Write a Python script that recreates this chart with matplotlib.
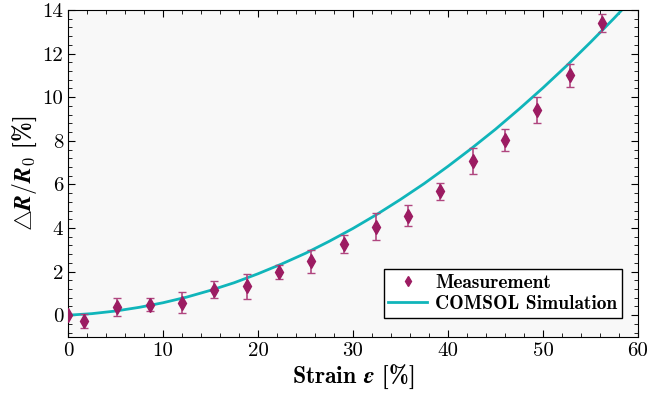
import matplotlib.pyplot as plt
from matplotlib.ticker import MultipleLocator

# measured points
strain = [0, 1.7, 5.2, 8.6, 12.0, 15.4, 18.8, 22.2, 25.6, 29.0, 32.4,
          35.8, 39.2, 42.6, 46.0, 49.4, 52.8, 56.2]
dr = [0, -0.26, 0.38, 0.49, 0.58, 1.17, 1.32, 1.98, 2.48, 3.26, 4.06,
      4.57, 5.68, 7.08, 8.03, 9.40, 11.0, 13.4]
err = [0, 0.32, 0.4, 0.3, 0.5, 0.4, 0.58, 0.3, 0.53, 0.4, 0.61,
       0.5, 0.39, 0.61, 0.51, 0.59, 0.51, 0.4]

# comsol curve
sim_x = [0, 2.5, 5, 7.5, 10, 12.5, 15, 17.5, 20, 22.5, 25, 27.5, 30, 32.5,
         35, 37.5, 40, 42.5, 45, 47.5, 50, 52.5, 55, 57.5, 58.3]
sim_y = [0, 0.07, 0.19, 0.36, 0.57, 0.83, 1.14, 1.49, 1.90, 2.35, 2.84, 3.39,
         3.98, 4.62, 5.31, 6.04, 6.83, 7.66, 8.53, 9.46, 10.43, 11.45, 12.52,
         13.63, 14.0]

plt.rcParams['mathtext.fontset'] = 'cm'
plt.rcParams['axes.unicode_minus'] = False

purple = '#9c1c62'
teal = '#10b5ba'

fig = plt.figure(figsize=(6.47, 3.98), dpi=100)
ax = fig.add_axes([0.1051, 0.1533, 0.881, 0.8216])
ax.set_facecolor('#f8f8f8')

line, = ax.plot(sim_x, sim_y, color=teal, lw=2, zorder=2)
ax.errorbar(strain, dr, yerr=err, fmt='none', ecolor='#b0467f',
            elinewidth=1.2, capsize=3, capthick=1, zorder=3)
pts, = ax.plot(strain, dr, 'd', color=purple, ms=7, zorder=4)

ax.set_xlim(0, 60)
ax.set_ylim(-1, 14)
ax.xaxis.set_major_locator(MultipleLocator(10))
ax.xaxis.set_minor_locator(MultipleLocator(2))
ax.yaxis.set_major_locator(MultipleLocator(2))
ax.yaxis.set_minor_locator(MultipleLocator(0.4))
ax.tick_params(which='both', direction='in', top=True, right=True)
ax.tick_params(which='major', length=5)
ax.tick_params(which='minor', length=3)
for lab in ax.get_xticklabels() + ax.get_yticklabels():
    lab.set_fontfamily('cmr10')
    lab.set_fontsize(15)

ax.set_xlabel(r'Strain $\boldsymbol{\epsilon}$ [%]', family='cmb10',
              fontsize=17, labelpad=2)
ax.set_ylabel(r'$\bigtriangleup\boldsymbol{R}/\boldsymbol{R}_0$ [%]',
              family='cmb10', fontsize=17, labelpad=2)

ax.legend([pts, line], ['Measurement', 'COMSOL Simulation'],
          loc='lower right', bbox_to_anchor=(0.972, 0.058),
          prop={'family': 'cmb10', 'size': 14}, fancybox=False,
          edgecolor='black', framealpha=1, handlelength=2, borderpad=0.25,
          labelspacing=0.15, handletextpad=0.4, borderaxespad=0,
          markerscale=0.8)

fig.savefig('out.png', dpi=100)
